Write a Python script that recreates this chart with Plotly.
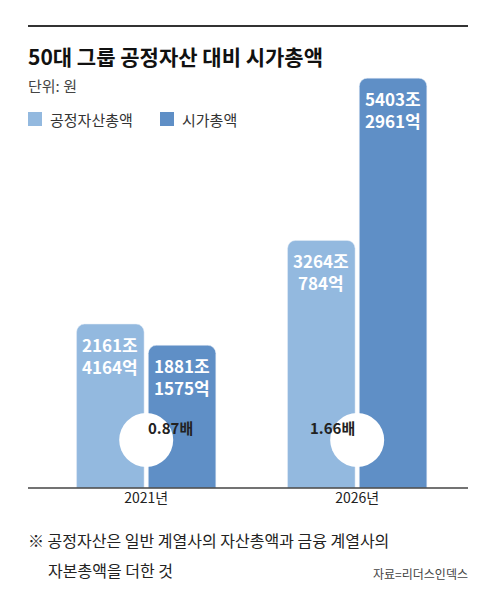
import plotly.graph_objects as go

years = ["2021년", "2026년"]
asset = [2161.4164, 3264.0784]
mcap = [1881.1575, 5403.2961]
asset_lbl = ["2161조<br>4164억", "3264조<br>784억"]
mcap_lbl = ["1881조<br>1575억", "5403조<br>2961억"]
ratio = ["0.87배", "1.66배"]

LIGHT = "#93b9df"
DARK = "#5f8fc6"
F = "Noto Sans CJK KR"
W, H = 480, 590
xs = [0, 1]
bw = 0.32
fig = go.Figure()
fig.add_bar(x=[x - 0.17 for x in xs], y=asset, width=bw, marker_color=LIGHT, name="공정자산총액", showlegend=False)
fig.add_bar(x=[x + 0.17 for x in xs], y=mcap, width=bw, marker_color=DARK, name="시가총액", showlegend=False)

x0, x1 = -0.655, 1.62
y_top = 5511
yd0, yd1 = 110 / H, 528 / H
def px(x): return (x - x0) / (x1 - x0) * W
for i in range(2):
    fig.add_annotation(x=xs[i] - 0.17, y=asset[i], text="<b>" + asset_lbl[i] + "</b>", showarrow=False,
                       yanchor="top", yshift=-6, font=dict(family=F, size=17, color="white"))
    fig.add_annotation(x=xs[i] + 0.17, y=mcap[i], text="<b>" + mcap_lbl[i] + "</b>", showarrow=False,
                       yanchor="top", yshift=-6, font=dict(family=F, size=17, color="white"))
    cx = px(xs[i]) / W
    cy = (H - 432) / H
    r = 27
    fig.add_shape(type="circle", xref="paper", yref="paper", x0=cx - r / W, x1=cx + r / W,
                  y0=cy - r / H, y1=cy + r / H, fillcolor="white", line=dict(width=0))
    fig.add_annotation(xref="paper", yref="paper", x=cx, y=cy, text="<b>" + ratio[i] + "</b>", showarrow=False,
                       font=dict(family=F, size=15, color="#222"))

fig.add_shape(type="line", xref="paper", yref="paper", x0=20 / W, x1=460 / W, y0=(H - 18) / H, y1=(H - 18) / H,
              line=dict(color="#333", width=2))
fig.add_shape(type="line", xref="paper", yref="paper", x0=20 / W, x1=460 / W, y0=yd0, y1=yd0,
              line=dict(color="#444", width=1.5))
def txt(x, y, t, size, color="#222", xanchor="left", bold=False):
    fig.add_annotation(xref="paper", yref="paper", x=x / W, y=(H - y) / H, text=("<b>%s</b>" % t) if bold else t,
                       showarrow=False, xanchor=xanchor, yanchor="middle", font=dict(family=F, size=size, color=color))
txt(18, 48, "50대 그룹 공정자산 대비 시가총액", 21, "#111", bold=True)
txt(18, 77, "단위: 원", 15, "#444")
fig.add_shape(type="rect", xref="paper", yref="paper", x0=20 / W, x1=34 / W, y0=(H - 118) / H, y1=(H - 104) / H,
              fillcolor=LIGHT, line=dict(width=0))
txt(40, 111, "공정자산총액", 15, "#333")
fig.add_shape(type="rect", xref="paper", yref="paper", x0=152 / W, x1=166 / W, y0=(H - 118) / H, y1=(H - 104) / H,
              fillcolor=DARK, line=dict(width=0))
txt(172, 111, "시가총액", 15, "#333")
txt(18, 532, "※ 공정자산은 일반 계열사의 자산총액과 금융 계열사의", 16, "#222")
txt(38, 562, "자본총액을 더한 것", 16, "#222")
txt(462, 565, "자료=리더스인덱스", 12, "#444", xanchor="right")

fig.update_layout(width=W, height=H, margin=dict(l=0, r=0, t=0, b=0), plot_bgcolor="white", paper_bgcolor="white",
                  barcornerradius=8,
                  xaxis=dict(range=[x0, x1], tickvals=xs, ticktext=years, showgrid=False, zeroline=False,
                             tickfont=dict(family=F, size=14, color="#222"), ticklen=0),
                  yaxis=dict(range=[0, y_top], domain=[yd0, yd1], visible=False))
fig.write_html("out.html")
